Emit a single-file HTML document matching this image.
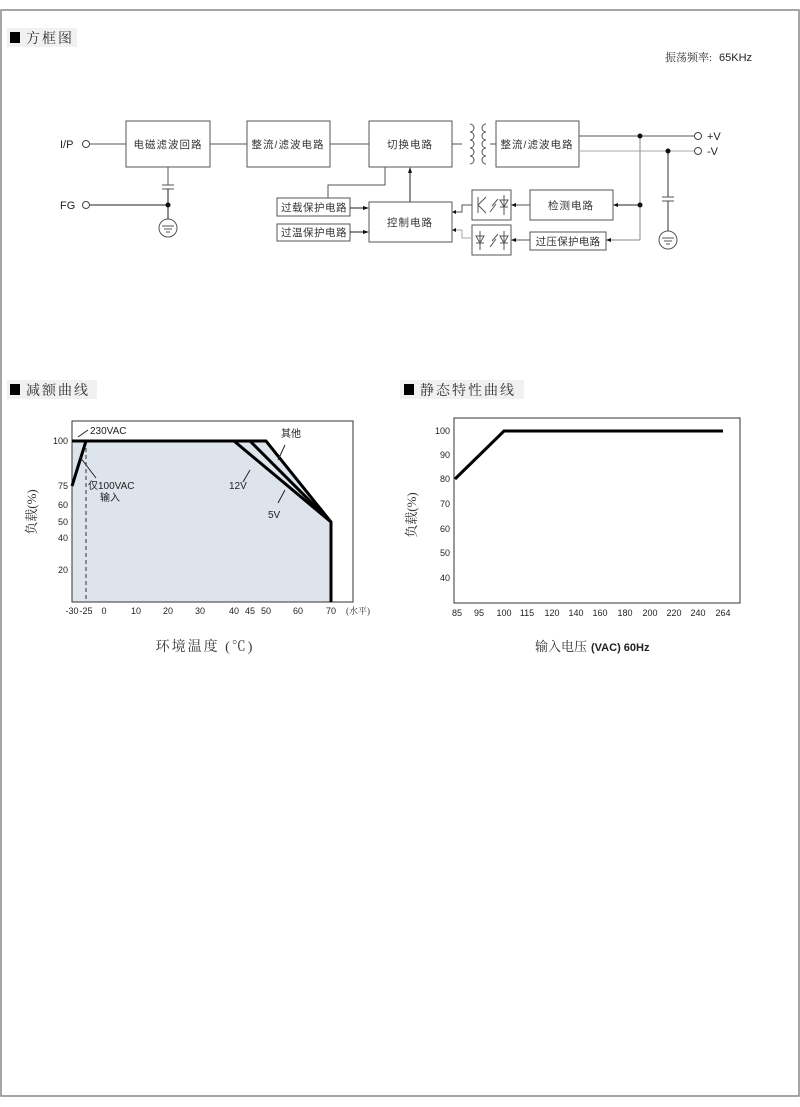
<!DOCTYPE html>
<html><head><meta charset="utf-8"><style>
body{margin:0;background:#fff}
svg{display:block}
text{font-family:"Liberation Sans","Noto Sans CJK SC",sans-serif}
.cn{font-family:"Liberation Serif","Noto Serif CJK SC",serif;fill:#333}
</style></head><body>
<svg width="800" height="1107" viewBox="0 0 800 1107" xmlns="http://www.w3.org/2000/svg">
<rect x="1" y="10" width="798" height="1086" fill="none" stroke="#888" stroke-width="1.5"/>
<rect x="7" y="28" width="70" height="19" fill="#f1f1f1"/>
<rect x="10" y="32" width="10" height="11" fill="#000"/>
<text x="26" y="43" font-size="14" class="cn" letter-spacing="2">方框图</text>
<text x="665" y="61" font-size="11" fill="#333" class="cn">振荡频率:</text><text x="719" y="61" font-size="11" fill="#222">65KHz</text>

<g stroke="#555" fill="none" stroke-width="1">
<rect x="126" y="121" width="84" height="46"/>
<rect x="247" y="121" width="83" height="46"/>
<rect x="369" y="121" width="83" height="46"/>
<rect x="496" y="121" width="83" height="46"/>
<rect x="277" y="198" width="73" height="18"/>
<rect x="277" y="224" width="73" height="17"/>
<rect x="369" y="202" width="83" height="40"/>
<rect x="472" y="190" width="39" height="30"/>
<rect x="472" y="225" width="39" height="30"/>
<rect x="530" y="190" width="83" height="30"/>
<rect x="530" y="232" width="76" height="18"/>
<line x1="90" y1="144" x2="126" y2="144"/>
<line x1="210" y1="144" x2="247" y2="144"/>
<line x1="330" y1="144" x2="369" y2="144"/>
<line x1="452" y1="144" x2="462" y2="144"/>
<line x1="490" y1="144" x2="496" y2="144"/>
<line x1="90" y1="205" x2="168" y2="205" stroke="#222"/>
<line x1="168" y1="167" x2="168" y2="185"/>
<line x1="162" y1="185" x2="174" y2="185"/><line x1="162" y1="189" x2="174" y2="189"/>
<line x1="168" y1="189" x2="168" y2="219" stroke="#222"/>
<circle cx="168" cy="228" r="9"/>
<line x1="162" y1="226" x2="174" y2="226"/><line x1="164" y1="229" x2="172" y2="229"/><line x1="166" y1="232" x2="170" y2="232"/>
<polyline points="385,167 385,185 328,185 328,198"/>
<line x1="350" y1="208" x2="366" y2="208" stroke="#222"/>
<line x1="350" y1="232" x2="366" y2="232" stroke="#222"/>
<line x1="410" y1="202" x2="410" y2="171" stroke="#222"/>
<path d="M470,124 a4,4 0 0 1 0,8 a4,4 0 0 1 0,8 a4,4 0 0 1 0,8 a4,4 0 0 1 0,8 a4,4 0 0 1 0,8"/>
<path d="M486,124 a4,4 0 0 0 0,8 a4,4 0 0 0 0,8 a4,4 0 0 0 0,8 a4,4 0 0 0 0,8 a4,4 0 0 0 0,8"/>
<line x1="579" y1="136" x2="694" y2="136"/>
<line x1="579" y1="151" x2="694" y2="151" stroke="#aaa"/>
<line x1="640" y1="136" x2="640" y2="240" stroke="#888"/>
<line x1="640" y1="240" x2="609" y2="240" stroke="#888"/>
<line x1="640" y1="205" x2="616" y2="205" stroke="#222"/>
<line x1="530" y1="205" x2="514" y2="205"/>
<line x1="530" y1="240" x2="514" y2="240"/>
<line x1="668" y1="151" x2="668" y2="197" stroke="#333"/>
<line x1="662" y1="197" x2="674" y2="197"/><line x1="662" y1="201" x2="674" y2="201"/>
<line x1="668" y1="201" x2="668" y2="231" stroke="#333"/>
<circle cx="668" cy="240" r="9"/>
<line x1="662" y1="238" x2="674" y2="238"/><line x1="664" y1="241" x2="672" y2="241"/><line x1="666" y1="244" x2="670" y2="244"/>
<polyline points="472,205 462,205 462,212 455,212"/>
<polyline points="472,238 462,238 462,230 455,230" stroke="#aaa"/>
<line x1="478" y1="197" x2="478" y2="213"/><line x1="478" y1="205" x2="486" y2="197"/><line x1="478" y1="205" x2="486" y2="213"/>
<line x1="490" y1="212" x2="496" y2="204"/><line x1="492" y1="206" x2="498" y2="199"/>
<polygon points="500,200 508,200 504,207"/><line x1="500" y1="207" x2="508" y2="207"/><line x1="504" y1="195" x2="504" y2="215"/>
<polygon points="476,236 484,236 480,243"/><line x1="476" y1="243" x2="484" y2="243"/><line x1="480" y1="231" x2="480" y2="250"/>
<line x1="490" y1="247" x2="496" y2="239"/><line x1="492" y1="241" x2="498" y2="234"/>
<polygon points="500,236 508,236 504,243"/><line x1="500" y1="243" x2="508" y2="243"/><line x1="504" y1="231" x2="504" y2="250"/>
</g>
<g fill="#fff" stroke="#444"><circle cx="86" cy="144" r="3.5"/><circle cx="86" cy="205" r="3.5"/><circle cx="698" cy="136" r="3.5"/><circle cx="698" cy="151" r="3.5"/></g>
<g fill="#111"><circle cx="168" cy="205" r="2.5"/><circle cx="640" cy="136" r="2.5"/><circle cx="668" cy="151" r="2.5"/><circle cx="640" cy="205" r="2.5"/>
<polygon points="369,208 363,206 363,210"/><polygon points="369,232 363,230 363,234"/><polygon points="410,167 408,173 412,173"/>
<polygon points="613,205 618,203 618,207"/><polygon points="606,240 611,238 611,242"/><polygon points="511,205 516,203 516,207"/><polygon points="511,240 516,238 516,242"/>
<polygon points="452,212 456,210 456,214"/><polygon points="452,230 456,228 456,232"/></g>
<g font-size="10.5" class="cn" text-anchor="middle" letter-spacing="1">
<text x="168" y="148">电磁滤波回路</text><text x="288" y="148">整流/滤波电路</text><text x="410" y="148">切换电路</text><text x="537" y="148">整流/滤波电路</text>
<text x="314" y="211" letter-spacing="0.5">过载保护电路</text><text x="314" y="236" letter-spacing="0.5">过温保护电路</text><text x="410" y="226">控制电路</text><text x="571" y="209">检测电路</text><text x="568" y="245" letter-spacing="0.3">过压保护电路</text>
</g>
<g font-size="11" fill="#222"><text x="60" y="148">I/P</text><text x="60" y="209">FG</text><text x="707" y="140">+V</text><text x="707" y="155">-V</text></g>

<rect x="7" y="380" width="90" height="19" fill="#f1f1f1"/>
<rect x="10" y="384" width="10" height="11" fill="#000"/>
<text x="26" y="395" font-size="14" class="cn" letter-spacing="2">减额曲线</text>
<polygon points="72,486 86,441 72,441" fill="#dde4ec"/>
<polygon points="72,441 266,441 331,522 331,602 72,602" fill="#dde4ec"/>
<rect x="72" y="421" width="281" height="181" fill="none" stroke="#333"/>
<line x1="86" y1="441" x2="86" y2="602" stroke="#333" stroke-dasharray="4,3"/>
<g fill="none" stroke="#000" stroke-width="3">
<polyline points="72,486 86,441"/>
<polyline points="72,441 266,441 331,522 331,602"/>
<polyline points="234,441 331,522"/><polyline points="250,441 331,522"/>
</g>
<g stroke="#222" fill="none"><line x1="78" y1="437" x2="88" y2="430"/><line x1="80" y1="457" x2="96" y2="478"/><line x1="250" y1="470" x2="243" y2="482"/><line x1="285" y1="490" x2="278" y2="503"/><line x1="278" y1="460" x2="285" y2="445"/></g>
<g font-size="10" fill="#222">
<text x="90" y="434">230VAC</text><text x="88" y="489">仅100VAC</text><text x="100" y="501">输入</text>
<text x="229" y="489">12V</text><text x="268" y="518">5V</text><text x="281" y="437">其他</text>
</g>
<g font-size="9" fill="#222" text-anchor="end">
<text x="68" y="444">100</text><text x="68" y="489">75</text><text x="68" y="508">60</text><text x="68" y="525">50</text><text x="68" y="541">40</text><text x="68" y="573">20</text>
</g>
<g font-size="9" fill="#222" text-anchor="middle">
<text x="72" y="614">-30</text><text x="86" y="614">-25</text><text x="104" y="614">0</text><text x="136" y="614">10</text><text x="168" y="614">20</text><text x="200" y="614">30</text><text x="234" y="614">40</text><text x="250" y="614">45</text><text x="266" y="614">50</text><text x="298" y="614">60</text><text x="331" y="614">70</text><text x="358" y="614" class="cn">(水平)</text>
</g>
<text x="205" y="651" font-size="14" class="cn" text-anchor="middle" letter-spacing="2">环境温度 (℃)</text>
<text transform="translate(36,512) rotate(-90)" font-size="13" class="cn" text-anchor="middle">负载(%)</text>

<rect x="400" y="380" width="124" height="19" fill="#f1f1f1"/>
<rect x="404" y="384" width="10" height="11" fill="#000"/>
<text x="420" y="395" font-size="14" class="cn" letter-spacing="2">静态特性曲线</text>
<rect x="454" y="418" width="286" height="185" fill="none" stroke="#333"/>
<polyline points="455,479 504,431 723,431" fill="none" stroke="#000" stroke-width="3"/>
<g font-size="9" fill="#222" text-anchor="end">
<text x="450" y="434">100</text><text x="450" y="458">90</text><text x="450" y="482">80</text><text x="450" y="507">70</text><text x="450" y="532">60</text><text x="450" y="556">50</text><text x="450" y="581">40</text>
</g>
<g font-size="9" fill="#222" text-anchor="middle">
<text x="457" y="616">85</text><text x="479" y="616">95</text><text x="504" y="616">100</text><text x="527" y="616">115</text><text x="552" y="616">120</text><text x="576" y="616">140</text><text x="600" y="616">160</text><text x="625" y="616">180</text><text x="650" y="616">200</text><text x="674" y="616">220</text><text x="698" y="616">240</text><text x="723" y="616">264</text>
</g>
<text x="535" y="651" font-size="13" class="cn">输入电压</text><text x="591" y="651" font-size="11" font-weight="bold" fill="#222">(VAC) 60Hz</text>
<text transform="translate(416,515) rotate(-90)" font-size="13" class="cn" text-anchor="middle">负载(%)</text>
</svg>
</body></html>
